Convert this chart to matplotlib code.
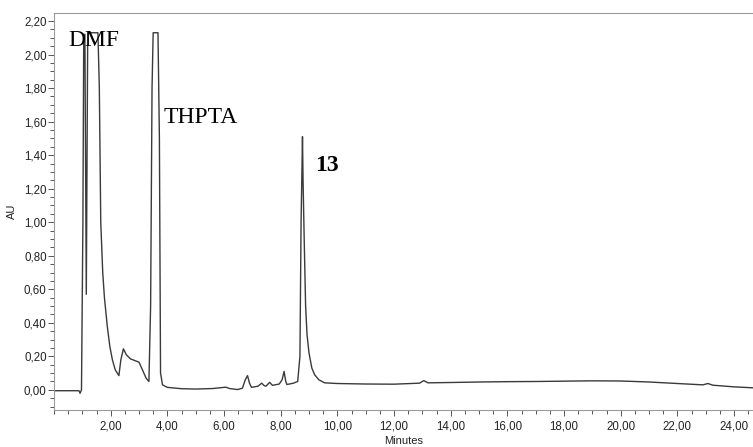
import matplotlib
matplotlib.use("Agg")
import matplotlib.pyplot as plt
from matplotlib.ticker import MultipleLocator, FuncFormatter

# Хроматограмма: время (мин) и поглощение (AU)
time_min = [0.0, 0.88, 0.92, 0.97, 1.02, 1.05, 1.09, 1.14, 1.19, 1.55, 1.6, 1.65,
            1.72, 1.78, 1.88, 1.97, 2.06, 2.16, 2.29, 2.36, 2.45, 2.55, 2.7, 2.85,
            3.0, 3.12, 3.25, 3.35, 3.41, 3.46, 3.5, 3.67, 3.72, 3.76, 3.83, 4.0,
            4.5, 5.0, 5.6, 6.06, 6.2, 6.47, 6.65, 6.75, 6.83, 6.9, 6.97, 7.2,
            7.33, 7.42, 7.48, 7.61, 7.71, 7.95, 8.05, 8.12, 8.18, 8.22, 8.45, 8.6,
            8.68, 8.72, 8.75, 8.77, 8.79, 8.83, 8.88, 8.93, 9.0, 9.1, 9.2, 9.35,
            9.55, 10.0, 11.0, 12.0, 12.9, 13.05, 13.2, 14.0, 15.0, 16.0, 17.0, 18.0,
            19.0, 20.0, 21.0, 22.0, 22.9, 23.08, 23.25, 24.0, 24.7]
au = [-0.005, -0.005, -0.02, 0.0, 1.0, 2.12, 2.12, 0.57, 2.13, 2.13, 1.8, 1.0,
      0.7, 0.55, 0.38, 0.26, 0.18, 0.12, 0.085, 0.18, 0.245, 0.21, 0.185, 0.175,
      0.165, 0.12, 0.07, 0.05, 0.5, 1.8, 2.13, 2.13, 1.5, 0.1, 0.03, 0.015,
      0.007, 0.005, 0.008, 0.016, 0.008, 0.002, 0.01, 0.06, 0.085, 0.04, 0.015, 0.022,
      0.04, 0.025, 0.022, 0.045, 0.027, 0.035, 0.06, 0.11, 0.05, 0.032, 0.04, 0.05,
      0.2, 1.0, 1.3, 1.51, 1.25, 0.9, 0.5, 0.33, 0.22, 0.13, 0.09, 0.06,
      0.042, 0.038, 0.035, 0.034, 0.04, 0.055, 0.042, 0.044, 0.047, 0.049, 0.05, 0.052,
      0.054, 0.053, 0.047, 0.038, 0.03, 0.038, 0.028, 0.018, 0.012]

# Подписи пиков
peak_labels = ["DMF", "THPTA", "13"]
peak_x = [0.52, 3.87, 9.23]
peak_y = [2.05, 1.59, 1.305]
peak_bold = [False, False, True]

fig = plt.figure(figsize=(7.53, 4.47), dpi=100)
ax = fig.add_axes([54 / 753, 1 - 410 / 447, (753 - 54) / 753, (410 - 13.3) / 447])

ax.plot(time_min, au, color="#3a3a3a", linewidth=1.0)

for lab, px, py, b in zip(peak_labels, peak_x, peak_y, peak_bold):
    ax.text(px, py, lab, family="Liberation Serif", fontsize=17,
            fontweight="bold" if b else "normal", ha="left", va="baseline")

ax.set_xlim(0, 24.67)
ax.set_ylim(-0.12, 2.246)

ax.xaxis.set_major_locator(MultipleLocator(2))
ax.xaxis.set_minor_locator(MultipleLocator(0.5))
ax.yaxis.set_major_locator(MultipleLocator(0.2))
ax.yaxis.set_minor_locator(MultipleLocator(0.05))

comma = FuncFormatter(lambda v, p: f"{v:.2f}".replace(".", ","))
ax.xaxis.set_major_formatter(comma)
ax.yaxis.set_major_formatter(comma)
ax.set_xticks([t for t in range(2, 25, 2)])

for s in ["left", "bottom", "top"]:
    ax.spines[s].set_color("#9a9a9a")
    ax.spines[s].set_linewidth(0.8)
ax.spines["right"].set_visible(False)

ax.tick_params(which="major", direction="out", length=4.3, width=0.7, color="#555555",
               labelsize=8.3, labelcolor="#222222", labelfontfamily="Liberation Sans")
ax.tick_params(which="minor", direction="out", length=2.9, width=0.7, color="#555555")
ax.tick_params(axis="y", which="major", pad=1)
ax.tick_params(axis="x", which="major", pad=3.5)

ax.set_ylabel("AU", fontsize=8, family="Liberation Sans", color="#222222", labelpad=5)
ax.set_xlabel("Minutes", fontsize=8, family="Liberation Sans", color="#222222", labelpad=2)

plt.savefig("out.png", dpi=100)
